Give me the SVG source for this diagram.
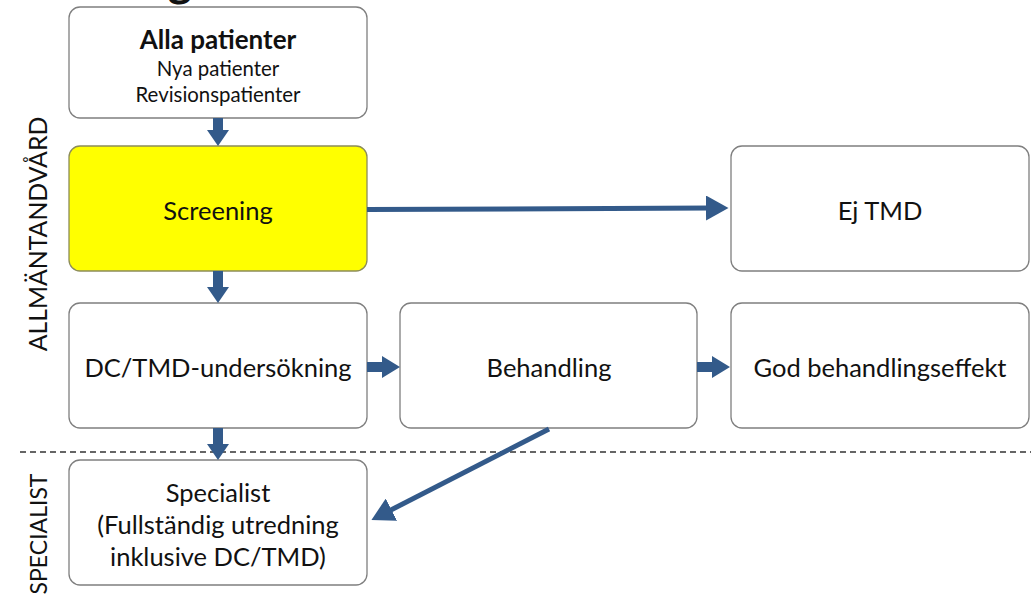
<svg xmlns="http://www.w3.org/2000/svg" width="1031" height="597" viewBox="0 0 1031 597">
<defs>
<style>
.box{fill:#fff;stroke:#7f7f7f;stroke-width:1.3}
.yel{fill:#ffff00;stroke:#8c8c5a;stroke-width:1.3}
.t{font-family:Lato,"Liberation Sans",sans-serif;fill:#111;text-anchor:middle;font-size:25.5px}
.s{font-size:20.4px}
.b{font-weight:bold;font-size:26px}
.ar{fill:#335a8a;stroke:none}
.ln{stroke:#335a8a;stroke-width:5;fill:none}
.side{font-family:Lato,"Liberation Sans",sans-serif;font-size:24.8px;fill:#111;text-anchor:middle}
</style>
<marker id="ah" markerWidth="5" markerHeight="5" refX="1" refY="2.5" orient="auto" markerUnits="strokeWidth">
<path d="M0,0 L4.5,2.5 L0,5 Z" fill="#335a8a"/>
</marker>
</defs>
<rect width="1031" height="597" fill="#fff"/>
<text x="180" y="-4" class="t b" style="font-size:46px">g</text>
<text class="side" transform="translate(47,234) rotate(-90)">ALLMÄNTANDVÅRD</text>
<text class="side" transform="translate(47,534) rotate(-90)" style="font-size:23px">SPECIALIST</text>
<line x1="20" y1="452" x2="1031" y2="452" stroke="#333" stroke-width="1.3" stroke-dasharray="6,4"/>
<g id="n1"><rect class="box" x="69" y="7" width="298" height="111" rx="11"/>
<text class="t b" x="218" y="49">Alla patienter</text>
<text class="t s" x="218" y="76">Nya patienter</text>
<text class="t s" x="218" y="102">Revisionspatienter</text></g>
<g id="n2"><rect class="yel" x="69" y="146" width="298" height="125" rx="11"/>
<text class="t" x="218" y="220">Screening</text></g>
<g id="n3"><rect class="box" x="731" y="146" width="298" height="125" rx="11"/>
<text class="t" x="880" y="220">Ej TMD</text></g>
<g id="n4"><rect class="box" x="69" y="303" width="298" height="125" rx="11"/>
<text class="t" x="218" y="377">DC/TMD-undersökning</text></g>
<g id="n5"><rect class="box" x="400" y="303" width="297" height="125" rx="11"/>
<text class="t" x="549" y="377">Behandling</text></g>
<g id="n6"><rect class="box" x="731" y="303" width="298" height="125" rx="11"/>
<text class="t" x="880" y="377">God behandlingseffekt</text></g>
<g id="n7"><rect class="box" x="69" y="460" width="298" height="125" rx="11"/>
<text class="t" x="218" y="502">Specialist</text>
<text class="t" x="218" y="534">(Fullständig utredning</text>
<text class="t" x="218" y="566">inklusive DC/TMD)</text></g>
<g id="connectors">
<path class="ar" d="M213,118 h10 v12 h6 l-11,16 l-11,-16 h6 z"/>
<path class="ar" d="M213,271 h10 v16 h6 l-11,16 l-11,-16 h6 z"/>
<path class="ar" d="M213,428 h10 v16 h6 l-11,16 l-11,-16 h6 z"/>
<path class="ar" d="M367,362 h15 v-6 l18,11 l-18,11 v-6 h-15 z"/>
<path class="ar" d="M697,362 h15 v-6 l18,11 l-18,11 v-6 h-15 z"/>
<line class="ln" x1="367" y1="209.5" x2="711" y2="208" marker-end="url(#ah)"/>
<line class="ln" x1="549" y1="429" x2="387" y2="512" marker-end="url(#ah)"/>
</g>
</svg>
